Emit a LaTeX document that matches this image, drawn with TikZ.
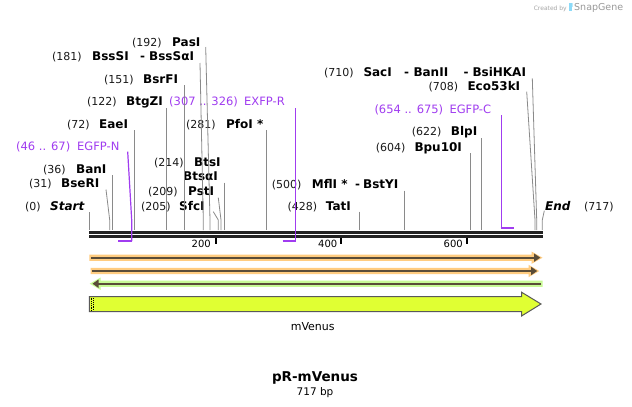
\documentclass[tikz,border=0pt]{standalone}
\usepackage{fontspec}
\setmainfont{DejaVu Sans}
\definecolor{primc}{HTML}{A03CF0}
\definecolor{conc}{HTML}{8A8A8A}
\definecolor{mapc}{HTML}{222222}
\definecolor{orng}{HTML}{FFCC80}
\definecolor{grn}{HTML}{C8FA96}
\definecolor{darkl}{HTML}{5A4C38}
\definecolor{venus}{HTML}{E0FF33}
\tikzset{
  num/.style={anchor=base west, inner sep=0pt, text=black!90, font=\fontsize{11}{13}\selectfont},
  enz/.style={anchor=base west, inner sep=0pt, text=black, font=\bfseries\fontsize{12}{14}\selectfont},
  enzit/.style={enz, font=\bfseries\itshape\fontsize{12}{14}\selectfont},
  prim/.style={num, text=primc, font=\fontsize{11.5}{13}\selectfont},
  conn/.style={draw=conc, line width=0.8pt},
  pconn/.style={draw=primc, line width=1.2pt},
  pbar/.style={draw=primc, line width=2.2pt},
  tick/.style={fill=black},
  ticklab/.style={anchor=base east, inner sep=0pt, font=\fontsize{10}{12}\selectfont},
}
\begin{document}
\begin{tikzpicture}[x=1pt,y=-1pt]
\useasboundingbox (0,0) rectangle (632,407);
\fill[white] (0,0) rectangle (632,407);

% Created by SnapGene
\node[anchor=base east, inner sep=0pt, text=black!35, font=\fontsize{6}{7}\selectfont] (cre) at (567,10) {Created by};
\fill[cyan!45] (568.5,3) rectangle (571.5,11);
\fill[cyan!25] (571.5,3) rectangle (573,7);
\node[anchor=base west, inner sep=0pt, text=black!40, font=\fontsize{9.5}{11}\selectfont] (sg) at (574,10.5) {SnapGene};

% map line
\fill[mapc] (89.3,231) rectangle (543.3,233.6);
\fill[mapc] (89.3,235.3) rectangle (543.3,237.7);
\coordinate (m0) at (89.3,230);
% ticks
\fill[tick] (214.5,237.7) rectangle (216.5,244.3);
\fill[tick] (340.3,237.7) rectangle (342.3,244.3);
\fill[tick] (466,237.7) rectangle (468,244.3);
\node[ticklab] (t200) at (211,247.5) {200};
\node[ticklab] (t400) at (337.5,247.5) {400};
\node[ticklab] (t600) at (463,247.5) {600};

% ---------- labels ----------
\node[num] (n192) at (132,46) {(192)};
\node[enz] (pas) at (172,46) {PasI};

\node[num] (n181) at (52,60.7) {(181)};
\node[enz] (bsss) at (92,60.7) {BssSI};
\node[enz] (d1) at (140,60.7) {-};
\node[enz] (bsssa) at (149,60.7) {BssSαI};

\node[num] (n151) at (104,83.3) {(151)};
\node[enz] (bsrf) at (143,83.3) {BsrFI};

\node[num] (n122) at (87,105.7) {(122)};
\node[enz] (btgz) at (126,105.7) {BtgZI};

\node[prim] (n307) at (169,105.7) {(307 .. 326)};
\node[prim] (exfpr) at (244,105.7) {EXFP-R};

\node[num] (n72) at (67,128) {(72)};
\node[enz] (eae) at (99,128) {EaeI};

\node[num] (n281) at (186,128) {(281)};
\node[enz] (pfo) at (226,128) {PfoI *};

\node[prim] (n46) at (16,150.7) {(46 .. 67)};
\node[prim] (egfpn) at (77,150.7) {EGFP-N};

\node[num] (n36) at (43,173) {(36)};
\node[enz] (ban) at (76,173) {BanI};

\node[num] (n31) at (29,187.3) {(31)};
\node[enz] (bser) at (61,187.3) {BseRI};

\node[num] (n0) at (25,210.7) {(0)};
\node[enzit] (start) at (50,210.7) {Start};

\node[num] (n214) at (154,166.3) {(214)};
\node[enz] (bts) at (194,166.3) {BtsI};
\node[enz] (btsa) at (183,180.7) {BtsαI};

\node[num] (n209) at (148,195.7) {(209)};
\node[enz] (pst) at (188,195.7) {PstI};

\node[num] (n205) at (141,210.7) {(205)};
\node[enz] (sfc) at (179,210.7) {SfcI};

\node[num] (n500) at (271.7,188) {(500)};
\node[enz] (mfl) at (311.7,188) {MflI *};
\node[enz] (d2) at (355,188) {-};
\node[enz] (bsty) at (363,188) {BstYI};

\node[num] (n428) at (287.3,210.7) {(428)};
\node[enz] (tat) at (325.7,210.7) {TatI};

\node[enzit] (endl) at (545,210.7) {End};
\node[num] (n717) at (584,210.7) {(717)};

\node[num] (n710) at (324,76) {(710)};
\node[enz] (sac) at (363.3,76) {SacI};
\node[enz] (d3) at (404,76) {-};
\node[enz] (banii) at (413.3,76) {BanII};
\node[enz] (d4) at (463.3,76) {-};
\node[enz] (bsihkai) at (472.3,76) {BsiHKAI};

\node[num] (n708) at (428.3,90.7) {(708)};
\node[enz] (eco) at (467.3,90.7) {Eco53kI};

\node[prim] (n654) at (374.3,113) {(654 .. 675)};
\node[prim] (egfpc) at (449.3,113) {EGFP-C};

\node[num] (n622) at (411.7,135.7) {(622)};
\node[enz] (blp) at (450.7,135.7) {BlpI};

\node[num] (n604) at (375.7,151.3) {(604)};
\node[enz] (bpu) at (414.3,151.3) {Bpu10I};

% ---------- connectors ----------
\draw[conn] (89.3,212) -- (89.3,230);
\draw[conn] (106,189.5) -- (109.7,220) -- (109.7,230);
\draw[conn] (112.3,175) -- (112.3,230);
\draw[conn] (134.3,130) -- (134.3,230);
\draw[conn] (166.3,108.3) -- (166.3,230);
\draw[conn] (184.3,85) -- (184.3,230);
\draw[conn] (200,63) -- (203.3,220) -- (203.3,230);
\draw[conn] (205.7,47) -- (210,220) -- (210,230);
\draw[conn] (213.3,211.7) -- (218.3,220) -- (218.3,230);
\draw[conn] (218.3,197.7) -- (221,220) -- (221,230);
\draw[conn] (224.3,182.7) -- (224.3,230);
\draw[conn] (266.3,130) -- (266.3,230);
\draw[conn] (359.3,211.7) -- (359.3,230);
\draw[conn] (404.3,190.7) -- (404.3,230);
\draw[conn] (470.7,153.3) -- (470.7,230);
\draw[conn] (481.3,138.3) -- (481.3,230);
\draw[conn] (526.7,91.7) -- (535,220) -- (535,230);
\draw[conn] (532.3,78.3) -- (536.7,220) -- (536.7,230);
\draw[conn] (544.3,210.7) -- (542.3,220) -- (542.3,230);

% primers
\draw[pconn] (127.7,151.7) -- (131.7,220) -- (131.7,241);
\draw[pbar] (118,241) -- (132.3,241);
\draw[pconn] (295.3,108) -- (295.3,241);
\draw[pbar] (282.7,241) -- (295.9,241);
\draw[pconn] (501.3,115) -- (501.3,227.7);
\draw[pbar] (500.7,227.7) -- (514,227.7);

% ---------- sequence arrows ----------
% orange 1
\fill[orng] (89.3,254.6) -- (531.5,254.6) -- (531.5,251.5) -- (542.5,257.7) -- (531.5,263.9) -- (531.5,260.8) -- (89.3,260.8) -- cycle;
\draw[darkl, line width=2.2pt] (91,257.7) -- (535,257.7);
\fill[darkl] (534,253.5) -- (540.3,257.7) -- (534,261.9) -- cycle;
% orange 2
\fill[orng] (90.7,267.9) -- (528.5,267.9) -- (528.5,264.8) -- (539.3,271) -- (528.5,277.2) -- (528.5,274.1) -- (90.7,274.1) -- cycle;
\draw[darkl, line width=2.2pt] (92.3,271) -- (532,271);
\fill[darkl] (531,266.8) -- (537.2,271) -- (531,275.2) -- cycle;
% green (reverse)
\fill[grn] (542.7,280.6) -- (100.5,280.6) -- (100.5,277.5) -- (89.7,283.7) -- (100.5,289.9) -- (100.5,286.8) -- (542.7,286.8) -- cycle;
\draw[darkl, line width=2.2pt] (541,283.7) -- (97,283.7);
\fill[darkl] (98.5,279.5) -- (92.5,283.7) -- (98.5,287.9) -- cycle;

% mVenus feature
\filldraw[fill=venus, draw=black!65, line width=1pt] (89.3,296.7) -- (521.7,296.7) -- (521.7,292.3) -- (541,304) -- (521.7,315.9) -- (521.7,311.7) -- (89.3,311.7) -- cycle;
\draw[black, line width=0.8pt, dash pattern=on 0.9pt off 0.9pt] (91,297.5) -- (91,311);
\draw[black, line width=0.8pt, dash pattern=on 0.9pt off 0.9pt] (93,298.4) -- (93,311);
\node[anchor=base, inner sep=0pt, font=\fontsize{11}{13}\selectfont] (mv) at (312.7,330) {mVenus};

% title
\node[anchor=base, inner sep=0pt, font=\bfseries\fontsize{13.5}{16}\selectfont] (title) at (315,381) {pR-mVenus};
\node[anchor=base, inner sep=0pt, font=\fontsize{10.5}{12}\selectfont] (bp) at (315,395) {717 bp};
\end{tikzpicture}
\end{document}
